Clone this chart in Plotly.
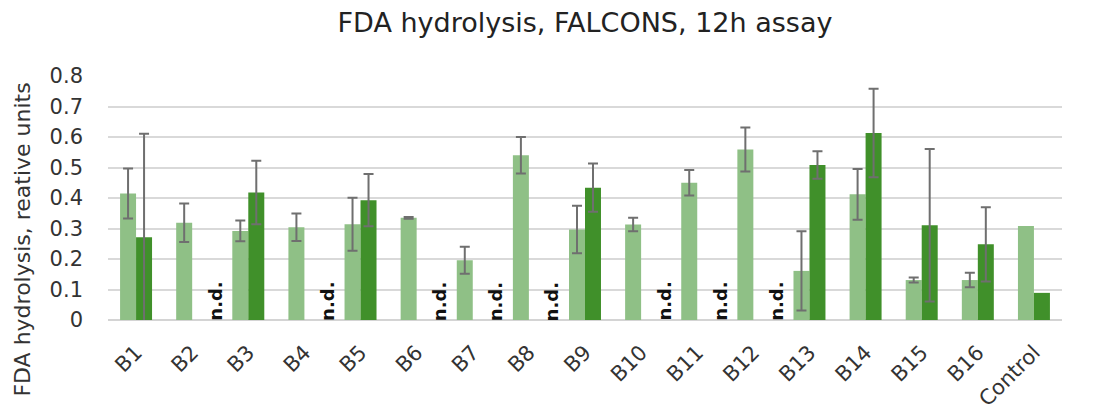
import plotly.graph_objects as go

# Samples on the x axis
categories = ["B1", "B2", "B3", "B4", "B5", "B6", "B7", "B8", "B9", "B10",
              "B11", "B12", "B13", "B14", "B15", "B16", "Control"]

# First series (light green): mean FDA hydrolysis and its error
series_a = [0.415, 0.319, 0.292, 0.304, 0.314, 0.335, 0.196, 0.540, 0.297, 0.313,
            0.450, 0.559, 0.161, 0.412, 0.131, 0.131, 0.308]
series_a_err = [0.082, 0.063, 0.034, 0.045, 0.087, 0.003, 0.044, 0.060, 0.078, 0.022,
                0.042, 0.072, 0.130, 0.083, 0.008, 0.024, None]

# Second series (dark green); None = not detected
series_b = [0.271, None, 0.418, None, 0.393, None, None, None, 0.434, None,
            None, None, 0.508, 0.613, 0.311, 0.248, 0.089]
series_b_err = [0.340, None, 0.104, None, 0.086, None, None, None, 0.079, None,
                None, None, 0.045, 0.145, 0.250, 0.122, None]

y_ticks = [0, 0.1, 0.2, 0.3, 0.4, 0.5, 0.6, 0.7, 0.8]
y_tick_labels = ["0", "0.1", "0.2", "0.3", "0.4", "0.5", "0.6", "0.7", "0.8"]

FONT = "DejaVu Sans, Open Sans, Arial, sans-serif"
LIGHT = "#8fc086"
DARK = "#40902a"
ERR = "#6f6f6f"


def err_cfg(values):
    # trailing entries without an error are dropped, so no whisker is drawn there
    vals = list(values)
    while vals and vals[-1] is None:
        vals.pop()
    return dict(type="data", array=vals, visible=True,
                color=ERR, thickness=2, width=5)


fig = go.Figure()
fig.add_trace(go.Bar(x=categories, y=series_a, marker=dict(color=LIGHT, line=dict(width=0)),
                     error_y=err_cfg(series_a_err), name="a"))
fig.add_trace(go.Bar(x=categories, y=series_b, marker=dict(color=DARK, line=dict(width=0)),
                     error_y=err_cfg(series_b_err), name="b"))

# "n.d." marks for the second series where nothing was detected
annotations = []
for cat, val in zip(categories, series_b):
    if val is None:
        annotations.append(dict(
            x=cat, xref="x", y=0, yref="y", xshift=23, yshift=-3,
            text="<b>n.d.</b>", textangle=-90, showarrow=False,
            xanchor="center", yanchor="bottom",
            font=dict(family=FONT, size=18, color="#111111"),
        ))

# Y axis title
annotations.append(dict(
    text="FDA hydrolysis, reative units", xref="paper", yref="paper",
    x=(23 - 108) / 954, y=(320 - 239.5) / 244.3, xanchor="center", yanchor="middle",
    textangle=-90, showarrow=False,
    font=dict(family=FONT, size=22, color="#333333"),
))

fig.update_layout(
    width=1101, height=416,
    margin=dict(l=108, r=39, t=76, b=96, autoexpand=False),
    paper_bgcolor="white", plot_bgcolor="white",
    barmode="group", bargap=0.43, bargroupgap=0,
    showlegend=False,
    title=dict(text="FDA hydrolysis, FALCONS, 12h assay", x=0.5, xref="paper",
               y=1 - 23 / 416, yref="container", xanchor="center", yanchor="middle",
               font=dict(family=FONT, size=27, color="#222222"), automargin=False),
    annotations=annotations,
    xaxis=dict(tickangle=-45, tickfont=dict(family=FONT, size=21, color="#333333"),
               showgrid=False, showline=False, zeroline=False, ticks="",
               ticklabelstandoff=15, automargin=False),
    yaxis=dict(range=[0, 0.8], tickvals=y_ticks, ticktext=y_tick_labels,
               tickfont=dict(family=FONT, size=21, color="#333333"),
               showgrid=True, gridcolor="#d9d9d9", gridwidth=1.5,
               zeroline=True, zerolinecolor="#d4d4d4", zerolinewidth=1.5,
               showline=False, ticks="", ticklabelstandoff=24, automargin=False),
)

fig.write_html("out.html")
